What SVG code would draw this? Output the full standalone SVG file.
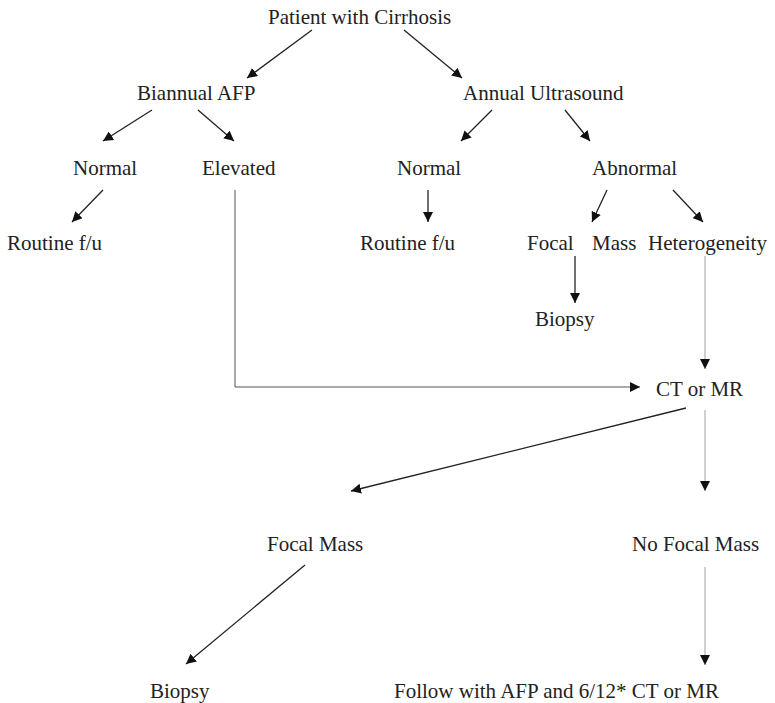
<svg xmlns="http://www.w3.org/2000/svg" width="775" height="703" viewBox="0 0 775 703">
<style>
text{font-family:"Liberation Serif","Times New Roman",serif;font-size:21px;fill:#222}
.c{stroke:#222;stroke-width:1.3;fill:none}
.f{stroke:#999;stroke-width:0.9;fill:none}
.g{stroke:#555;stroke-width:1;fill:none}
</style>
<defs>
<marker id="ah" viewBox="0 0 10 10" refX="10" refY="5" markerWidth="10" markerHeight="10" markerUnits="userSpaceOnUse" orient="auto">
<path d="M0,0 L10,5 L0,10 z" fill="#111"/>
</marker>
</defs>
<rect width="775" height="703" fill="#fff"/>
<g id="connectors">
<line class="c" x1="312" y1="30" x2="247" y2="78" marker-end="url(#ah)"/>
<line class="c" x1="404" y1="30" x2="462" y2="78" marker-end="url(#ah)"/>
<line class="c" x1="152" y1="110" x2="103" y2="141" marker-end="url(#ah)"/>
<line class="c" x1="198" y1="110" x2="234" y2="141" marker-end="url(#ah)"/>
<line class="c" x1="492" y1="110" x2="461" y2="141" marker-end="url(#ah)"/>
<line class="c" x1="565" y1="110" x2="590" y2="141" marker-end="url(#ah)"/>
<line class="c" x1="103" y1="190" x2="72" y2="222" marker-end="url(#ah)"/>
<line class="c" x1="428" y1="190" x2="428" y2="222" marker-end="url(#ah)"/>
<line class="c" x1="607" y1="190" x2="592" y2="222" marker-end="url(#ah)"/>
<line class="c" x1="673" y1="190" x2="703" y2="222" marker-end="url(#ah)"/>
<line class="c" x1="575" y1="256" x2="575" y2="303" marker-end="url(#ah)"/>
<line class="f" x1="705" y1="256" x2="705" y2="369" marker-end="url(#ah)"/>
<polyline class="g" points="235,190 235,387 640,387" marker-end="url(#ah)"/>
<line class="c" x1="686" y1="408" x2="351" y2="491" marker-end="url(#ah)"/>
<line class="f" x1="705" y1="410" x2="705" y2="491" marker-end="url(#ah)"/>
<line class="c" x1="305" y1="565" x2="186" y2="664" marker-end="url(#ah)"/>
<line class="f" x1="705" y1="567" x2="705" y2="665" marker-end="url(#ah)"/>
</g>
<g id="n-patient"><text x="268" y="24">Patient with Cirrhosis</text></g>
<g id="n-afp"><text x="137" y="100">Biannual AFP</text></g>
<g id="n-us"><text x="463" y="100">Annual Ultrasound</text></g>
<g id="n-normal1"><text x="73" y="175">Normal</text></g>
<g id="n-elevated"><text x="202" y="175">Elevated</text></g>
<g id="n-normal2"><text x="397" y="175">Normal</text></g>
<g id="n-abnormal"><text x="592" y="175">Abnormal</text></g>
<g id="n-routine1"><text x="7" y="250">Routine f/u</text></g>
<g id="n-routine2"><text x="360" y="250">Routine f/u</text></g>
<g id="n-focalmass1"><text x="527" y="250">Focal<tspan x="592">Mass</tspan></text></g>
<g id="n-hetero"><text x="648" y="250">Heterogeneity</text></g>
<g id="n-biopsy1"><text x="535" y="326">Biopsy</text></g>
<g id="n-ctmr"><text x="656" y="396">CT or MR</text></g>
<g id="n-focalmass2"><text x="267" y="551">Focal Mass</text></g>
<g id="n-nofocal"><text x="632" y="551">No Focal Mass</text></g>
<g id="n-biopsy2"><text x="150" y="698">Biopsy</text></g>
<g id="n-follow"><text x="394" y="698">Follow with AFP and 6/12* CT or MR</text></g>
</svg>
